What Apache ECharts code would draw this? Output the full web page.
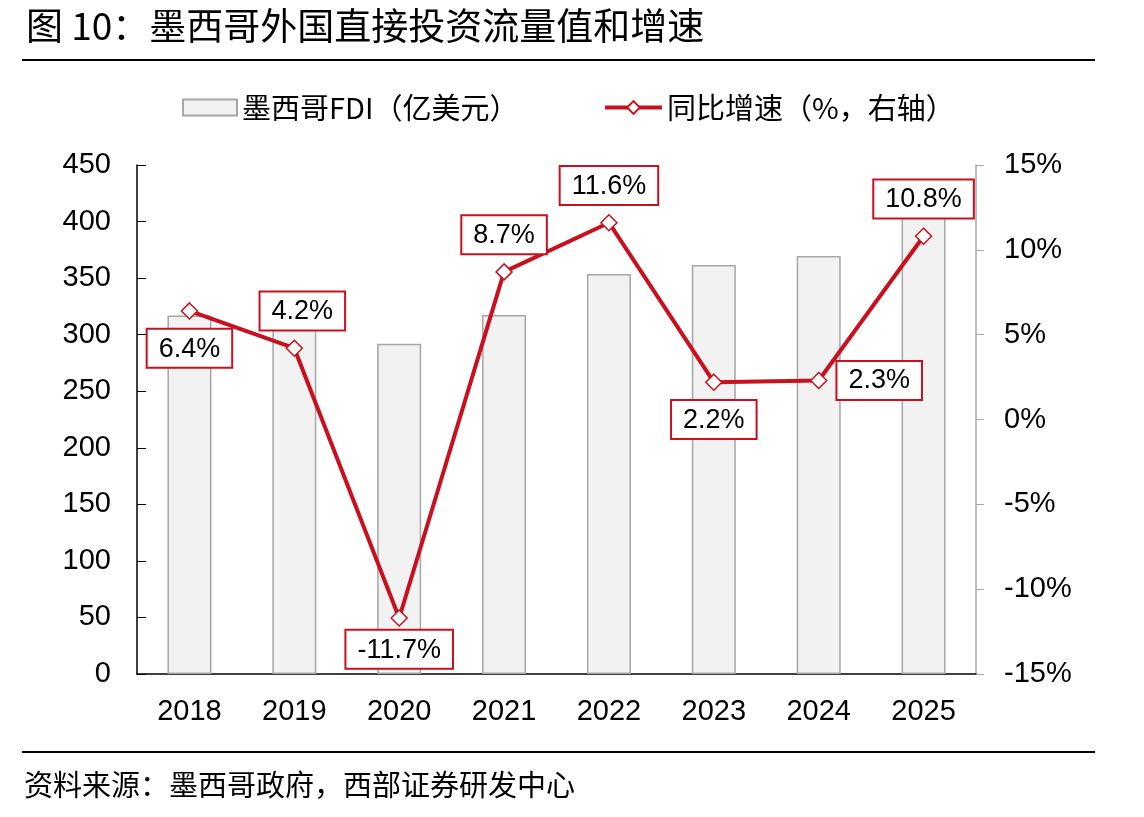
<!DOCTYPE html>
<html><head><meta charset="utf-8">
<script src="https://cdn.jsdelivr.net/npm/echarts@6/dist/echarts.min.js"></script>
<style>html,body{margin:0;padding:0;background:#fff}#c{width:1144px;height:817px}</style>
</head><body><div id="c"></div>
<script>
const years = ['2018', '2019', '2020', '2021', '2022', '2023', '2024', '2025'];
const fdi = [317.0, 330.5, 292.0, 317.4, 353.6, 361.5, 369.5, 409.6];
const growth = [6.4, 4.2, -11.7, 8.7, 11.6, 2.2, 2.3, 10.8];
const barName = '墨西哥FDI（亿美元）';
const lineName = '同比增速（%，右轴）';
const titleText = '图 10：墨西哥外国直接投资流量值和增速';
const sourceText = '资料来源：墨西哥政府，西部证券研发中心';

const RED = '#C8101E';
const FONT = '"Liberation Sans", Arial, "Noto Sans CJK SC", sans-serif';
const CJK = '"Noto Sans CJK SC", "Liberation Sans", sans-serif';
const labelPlace = ['bottom', 'top', 'bottom', 'top', 'top', 'bottom', 'right', 'top'];
const labelShift = [[0, 0], [8, 0], [0, 0], [0, 0], [0, 0], [0, 0], [0, 0], [0, 0]];
const labelDist = [10, 10, 4, 10, 10, 10, 10, 10];

const lineData = growth.map((v, i) => ({
  value: v,
  label: { position: labelPlace[i], offset: labelShift[i], distance: labelDist[i] }
}));

const chart = echarts.init(document.getElementById('c'), null, { renderer: 'canvas' });
chart.setOption({
  animation: false,
  backgroundColor: '#fff',
  graphic: [
    { type: 'text', left: 26, top: 7, style: { text: titleText, font: '37px ' + CJK, fill: '#000' } },
    { type: 'line', shape: { x1: 22, y1: 60, x2: 1095, y2: 60 }, style: { stroke: '#000', lineWidth: 2 } },
    { type: 'line', shape: { x1: 22, y1: 752, x2: 1095, y2: 752 }, style: { stroke: '#000', lineWidth: 2 } },
    { type: 'text', left: 24, top: 770, style: { text: sourceText, font: '29px ' + CJK, fill: '#000' } }
  ],
  legend: [
    { data: [{ name: barName, icon: 'rect' }], left: 177, top: 88, itemWidth: 54, itemHeight: 16,
      textStyle: { fontSize: 29, fontFamily: CJK, color: '#000' } },
    { data: [lineName], left: 598, top: 88, itemWidth: 57, itemHeight: 16,
      lineStyle: { width: 4 },
      textStyle: { fontSize: 29, fontFamily: CJK, color: '#000' } }
  ],
  grid: { left: 137, right: 168, top: 165, bottom: 143, containLabel: false },
  xAxis: {
    type: 'category', data: years, boundaryGap: true,
    axisLine: { lineStyle: { color: '#000', width: 1.5 } },
    axisTick: { inside: true, length: 10, lineStyle: { color: '#000' } },
    axisLabel: { fontSize: 29, fontFamily: FONT, color: '#000', margin: 23 }
  },
  yAxis: [
    { type: 'value', min: 0, max: 450, interval: 50,
      axisLine: { show: true, lineStyle: { color: '#000', width: 1.5 } },
      axisTick: { show: true, inside: true, length: 9, lineStyle: { color: '#000' } },
      splitLine: { show: false },
      axisLabel: { fontSize: 29, fontFamily: FONT, color: '#000', margin: 26 } },
    { type: 'value', min: -15, max: 15, interval: 5, position: 'right',
      axisLine: { show: true, lineStyle: { color: '#A6A6A6', width: 1.5 } },
      axisTick: { show: true, inside: false, length: 8, lineStyle: { color: '#A6A6A6' } },
      splitLine: { show: false },
      axisLabel: { fontSize: 29, fontFamily: FONT, color: '#000', margin: 28, formatter: '{value}%' } }
  ],
  series: [
    { name: barName, type: 'bar', data: fdi, barWidth: 44, yAxisIndex: 0,
      itemStyle: { color: '#F2F2F2', borderColor: '#A6A6A6', borderWidth: 1.5 } },
    { name: lineName, type: 'line', data: lineData, yAxisIndex: 1,
      symbol: 'diamond', symbolSize: 16,
      lineStyle: { color: RED, width: 4 },
      itemStyle: { color: '#fff', borderColor: RED, borderWidth: 1.5 },
      label: { show: true, formatter: p => p.value.toFixed(1) + '%',
        fontSize: 27, fontFamily: FONT, color: '#000',
        backgroundColor: '#fff', borderColor: RED, borderWidth: 2,
        padding: [6, 11, 4, 11] },
      z: 5 }
  ]
});
</script></body></html>
